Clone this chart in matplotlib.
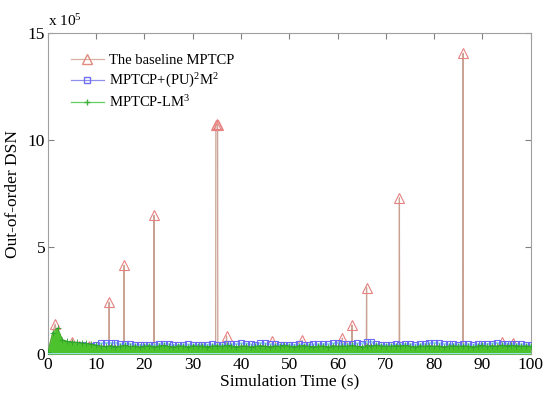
import matplotlib
matplotlib.use("Agg")
import matplotlib.pyplot as plt
from matplotlib.lines import Line2D
import numpy as np

plt.rcParams['font.family'] = ['Liberation Serif', 'DejaVu Serif']
plt.rcParams['mathtext.fontset'] = 'custom'
plt.rcParams['mathtext.rm'] = 'Liberation Serif'
plt.rcParams['mathtext.it'] = 'Liberation Serif:italic'

# time axis for the dense series (s)
t = list(range(0, 101))

# MPTCP-LM^3, values in thousands
green_k = [10, 100, 122, 68, 60, 58, 55, 52, 50, 46, 42,
           38, 36, 40, 35, 38, 42, 36, 39, 34, 38,
           40, 35, 39, 41, 37, 34, 39, 38, 35, 40,
           37, 39, 35, 38, 40, 37, 41, 39, 35, 38,
           39, 34, 37, 40, 38, 35, 39, 37, 41, 38,
           35, 39, 40, 37, 34, 38, 39, 35, 40, 37,
           39, 38, 41, 37, 35, 40, 38, 42, 39, 37,
           38, 40, 39, 41, 37, 35, 39, 38, 40, 37,
           39, 35, 38, 40, 37, 39, 38, 35, 39, 41,
           37, 40, 38, 42, 39, 41, 40, 38, 39, 37]

# MPTCP+(PU)^2M^2, values in thousands
blue_k = [5, 30, 48, 46, 44, 43, 42, 41, 40, 40, 44,
          50, 52, 51, 53, 45, 49, 47, 44, 43, 42,
          44, 43, 47, 49, 46, 43, 42, 44, 45, 43,
          42, 44, 43, 45, 43, 44, 46, 45, 47, 50,
          49, 45, 44, 52, 50, 46, 45, 43, 42, 44,
          43, 45, 44, 43, 46, 45, 47, 46, 50, 53,
          48, 46, 47, 50, 49, 56, 57, 45, 44, 43,
          44, 45, 43, 47, 46, 44, 45, 47, 52, 53,
          50, 47, 45, 46, 44, 45, 46, 44, 45, 47,
          46, 49, 52, 48, 49, 47, 46, 45, 44, 43]

# The baseline MPTCP, out-of-order events (time s, value in thousands)
base_t = [0, 1.5, 2.5, 4.95, 5.0, 5.05, 6.45, 6.5, 6.55, 8.45, 8.5, 8.55,
          12.65, 12.7, 12.75, 15.75, 15.8, 15.85, 21.95, 22.0, 22.05, 23.95, 24.0, 24.05,
          34.75, 34.8, 35.0, 35.15, 35.2, 36.95, 37.0, 37.05, 46.45, 46.5, 46.55,
          52.65, 52.7, 52.75, 60.95, 61.0, 61.05, 62.95, 63.0, 63.05, 65.95, 66.0, 66.05,
          72.75, 72.8, 72.85, 74.45, 74.5, 74.55, 85.95, 86.0, 86.05,
          93.95, 94.0, 94.05, 96.25, 96.3, 96.35, 100]
base_k = [5, 140, 10, 10, 58, 10, 10, 40, 10, 10, 38, 10,
          10, 243, 10, 10, 415, 10, 10, 648, 10, 10, 30, 10,
          10, 1072, 1075, 1070, 10, 10, 85, 10, 10, 60, 10,
          10, 65, 10, 10, 75, 10, 10, 135, 10, 10, 310, 10,
          10, 730, 10, 10, 28, 10, 10, 1405, 10,
          10, 55, 10, 10, 52, 10, 10]

green = np.array(green_k) * 1e3
blue = np.array(blue_k) * 1e3
base = np.array(base_k) * 1e3

fig = plt.figure(figsize=(5.5, 3.97), dpi=100)
ax = fig.add_axes([0.087, 0.108, 0.878, 0.809])

ax.plot(base_t, base, '-', color='#caa293', lw=0.9, zorder=2)
ax.plot(base_t, base, '^', ms=7, mfc='none', mec='#e88080', mew=0.8, zorder=2)
ax.plot(t, blue, '-', color='#8ad6f0', lw=1.5, zorder=3)
ax.plot(t, blue, 's', ms=5, mfc='none', mec='#6a6af5', mew=0.8, zorder=3)
ax.fill_between(t, 0, green, color='#4cc22c', lw=0, zorder=4)
ax.plot(t, green, '-', color='#3fae2a', lw=0.8, zorder=4)
ax.plot(t, green, '+', ms=4, color='#30a030', mew=0.6, zorder=4)
ax.axhline(0, color='#a0e8f5', lw=2, zorder=5)

ax.set_xlim(0, 100)
ax.set_ylim(0, 15e5)
ax.set_xticks(range(0, 101, 10))
ax.set_yticks([0, 5e5, 10e5, 15e5])
ax.set_yticklabels(['0', '5', '10', '15'])
ax.tick_params(direction='in', top=True, right=True, labelsize=12.5, length=4,
               color='#808080', pad=2)
for s in ax.spines.values():
    s.set_color('#a0a0a0')
    s.set_linewidth(0.8)

ax.set_xlabel('Simulation Time (s)', fontsize=12.5, labelpad=0)
ax.set_ylabel('Out-of-order DSN', fontsize=12.5, labelpad=5)
ax.text(0.0, 1.012, r'x 10$^{5}$', transform=ax.transAxes, fontsize=11, va='bottom')

handles = [
    Line2D([], [], color='#d8b0a0', marker='^', mfc='none', mec='#e08a80', ms=7, lw=0.9),
    Line2D([], [], color='#9090f0', marker='s', mfc='none', mec='#7070f0', ms=5, lw=0.9),
    Line2D([], [], color='#60d060', marker='+', mec='#40b040', ms=4, lw=0.9),
]
labels = ['The baseline MPTCP', r'MPTCP+(PU)$^2$M$^2$', r'MPTCP-LM$^3$']
ax.legend(handles, labels, loc='upper left', frameon=False, fontsize=10.5,
          bbox_to_anchor=(0.02, 0.975), handlelength=2.3, handletextpad=0.3,
          labelspacing=0.3)

fig.savefig('out.png', dpi=100)
